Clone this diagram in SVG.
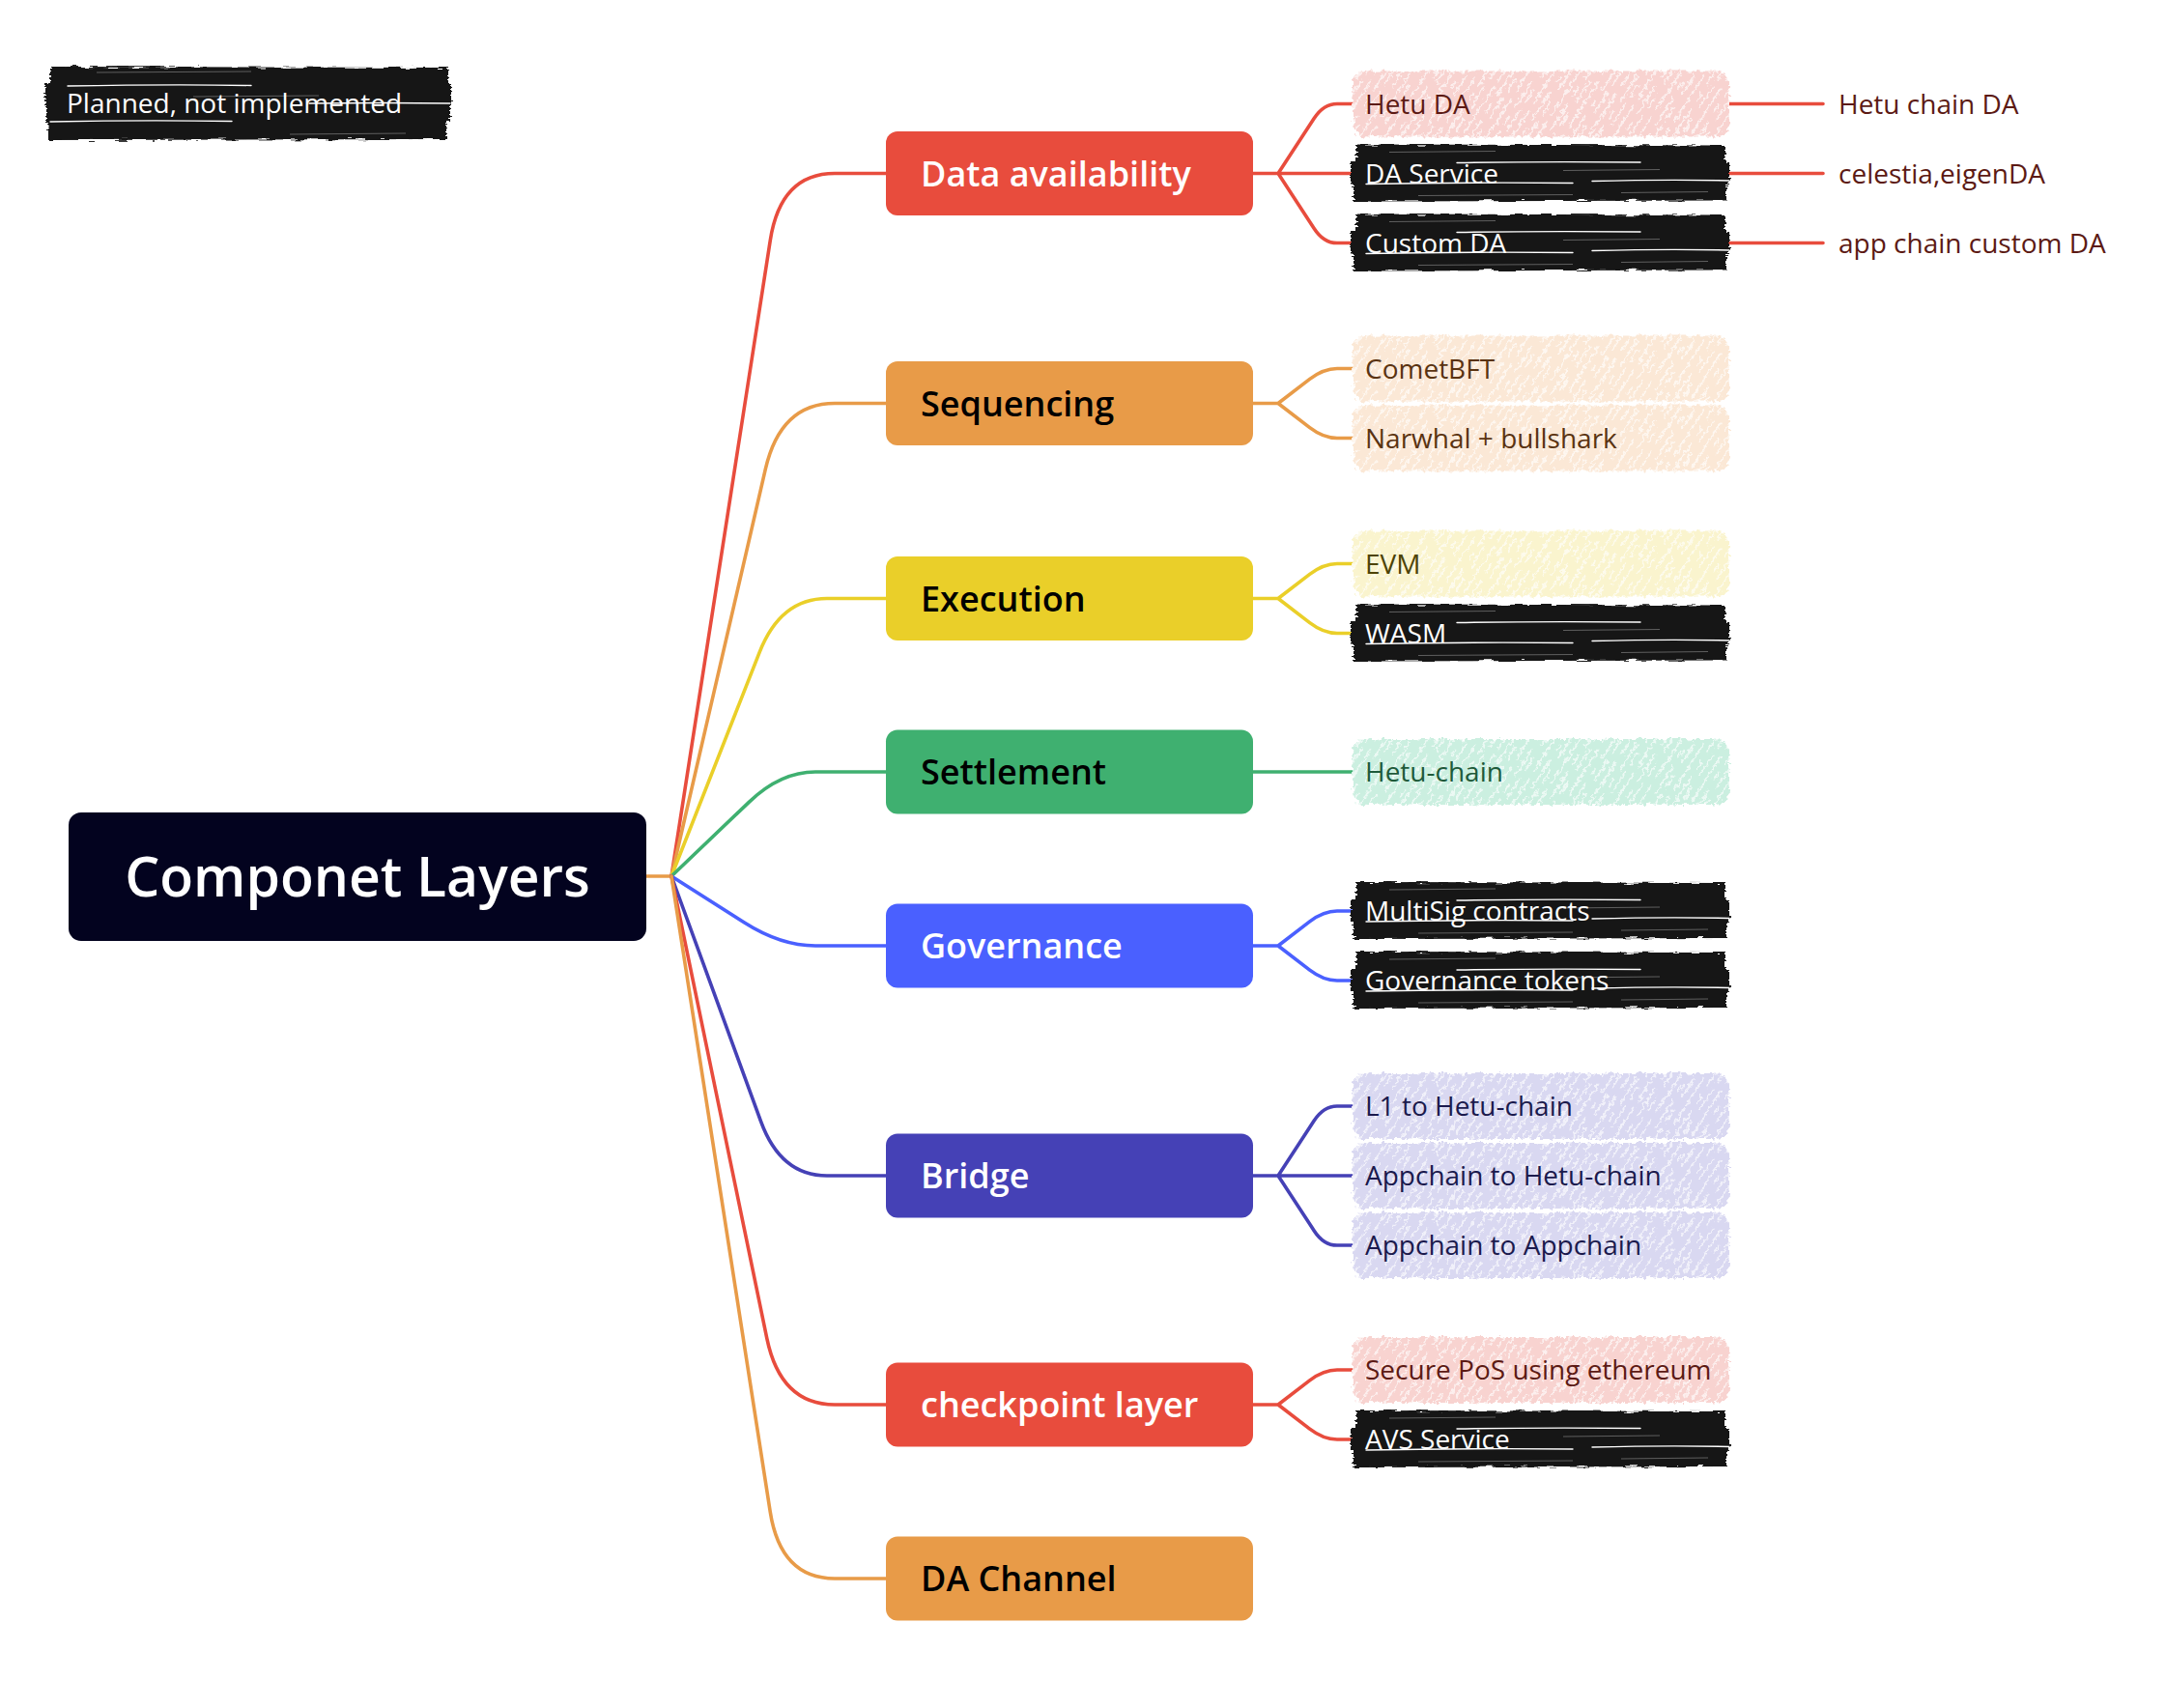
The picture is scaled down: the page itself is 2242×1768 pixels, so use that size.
<svg xmlns="http://www.w3.org/2000/svg" xmlns:xlink="http://www.w3.org/1999/xlink" width="2242" height="1768" viewBox="0 0 2242 1768">
<style>
text{font-family:"Open Sans","Noto Sans","DejaVu Sans",sans-serif}
.root{font-size:57px;font-weight:600;fill:#fff}
.cat{font-size:36px;font-weight:600}
.sub{font-size:28px}
.w{fill:#fff}
.k{fill:#000}
.lk{fill:none;stroke-width:3.6;stroke-linecap:round;stroke-linejoin:round}
.red{stroke:#E84C3D}.org{stroke:#E89B48}.yel{stroke:#EACF29}.grn{stroke:#3FB070}.blu{stroke:#4A60FF}.ind{stroke:#4541B6}
.ink{stroke:#141414;stroke-width:22;fill:none}
.gap{stroke:#fff;stroke-width:1.4;fill:none;stroke-linecap:round}
.gr{stroke:#9a9a9a;stroke-width:1;fill:none;opacity:.55}
</style>
<defs>
<filter id="rough" x="-5%" y="-30%" width="110%" height="160%">
<feTurbulence type="fractalNoise" baseFrequency="0.22" numOctaves="2" seed="4" result="n"/>
<feDisplacementMap in="SourceGraphic" in2="n" scale="8" xChannelSelector="R" yChannelSelector="G"/>
</filter>
<filter id="roughB" x="-5%" y="-30%" width="110%" height="160%">
<feTurbulence type="fractalNoise" baseFrequency="0.06 0.5" numOctaves="2" seed="7" result="n"/>
<feDisplacementMap in="SourceGraphic" in2="n" scale="7" xChannelSelector="R" yChannelSelector="G"/>
</filter>
<pattern id="hatch" width="22" height="64" patternUnits="userSpaceOnUse" patternTransform="rotate(33)">
<path d="M3,0V26M3,34V64M11,6V40M11,50V60M17,14V30M17,38V64" stroke="#fff" stroke-width="1.6" opacity="0.8"/>
</pattern>
<g id="pastel">
<rect x="0" y="-34" width="390" height="68" rx="14"/>
<rect x="0" y="-34" width="390" height="68" rx="14" fill="url(#hatch)"/>
</g>
<g id="blkInk">
<path class="ink" d="M6,-19L388,-18"/>
<path class="ink" d="M0,-1L392,0"/>
<path class="ink" d="M3,18L389,17"/>
</g>
<g id="blkGap">
<path class="gap" d="M16,11Q120,9 230,10M250,8Q330,6 392,7.5"/>
<path class="gap" d="M110,-11Q200,-12.5 300,-11.5"/>
<path class="gr" d="M40,-22L150,-23M220,-3L320,-4M70,23L230,22M280,20L370,19"/>
</g>
</defs>

<g id="legend">
<g filter="url(#roughB)">
<path class="ink" d="M52,80L464,81"/>
<path class="ink" d="M47,98L467,98"/>
<path class="ink" d="M48,116L466,115"/>
<path class="ink" d="M50,134L462,133"/>
</g>
<path class="gap" d="M70,89Q180,87 260,88.5M320,107Q400,106 466,107M52,126Q150,124 240,125.5"/>
<path class="gr" d="M100,75L260,74M300,139L420,138M200,100L330,99"/>
<text class="sub w" x="69" y="117">Planned, not implemented</text>
</g>

<g id="connectors">
<path class="lk org" d="M669,907L695,907"/>
<path class="lk red" d="M695,907L797.3,248.7Q808,179.5 864,179.5L917,179.5"/>
<path class="lk org" d="M695,907L792.3,485.7Q808,417.5 864,417.5L917,417.5"/>
<path class="lk yel" d="M695,907L786.1,675.3Q808,619.5 856,619.5L917,619.5"/>
<path class="lk grn" d="M695,907L775.5,830.1Q808,799 844,799L917,799"/>
<path class="lk blu" d="M695,907L770.1,954.8Q808,979 844,979L917,979"/>
<path class="lk ind" d="M695,907L787.5,1160.6Q808,1217 856,1217L917,1217"/>
<path class="lk red" d="M695,907L793.8,1385.4Q808,1454 864,1454L917,1454"/>
<path class="lk org" d="M695,907L797.2,1564.8Q808,1634 864,1634L917,1634"/>

<path class="lk red" d="M1297,179.5H1323M1323,179.5L1360.2,122.6Q1370,107.5 1384,107.5H1404M1323,179.5H1404M1323,179.5L1360.2,236.4Q1370,251.5 1384,251.5H1404"/>
<path class="lk red" d="M1790,107.5H1887M1790,179.5H1887M1790,251.5H1887"/>
<path class="lk org" d="M1297,417.5H1323M1323,417.5L1355.7,392.4Q1370,381.5 1384,381.5H1404M1323,417.5L1355.7,442.6Q1370,453.5 1384,453.5H1404"/>
<path class="lk yel" d="M1297,619.5H1323M1323,619.5L1355.7,594.4Q1370,583.5 1384,583.5H1404M1323,619.5L1355.7,644.6Q1370,655.5 1384,655.5H1404"/>
<path class="lk grn" d="M1297,799H1404"/>
<path class="lk blu" d="M1297,979H1323M1323,979L1355.7,953.9Q1370,943 1384,943H1404M1323,979L1355.7,1004.1Q1370,1015 1384,1015H1404"/>
<path class="lk ind" d="M1297,1217H1323M1323,1217L1360.2,1160.1Q1370,1145 1384,1145H1404M1323,1217H1404M1323,1217L1360.2,1273.9Q1370,1289 1384,1289H1404"/>
<path class="lk red" d="M1297,1454H1323M1323,1454L1355.7,1428.9Q1370,1418 1384,1418H1404M1323,1454L1355.7,1479.1Q1370,1490 1384,1490H1404"/>
</g>

<g id="root">
<rect x="71" y="841" width="598" height="133" rx="13" fill="#03031F"/>
<text class="root" x="370" y="928" text-anchor="middle">Componet Layers</text>
</g>

<g id="cat-da"><rect x="917" y="136" width="380" height="87" rx="12" fill="#E84C3D"/><text class="cat w" x="953" y="192.5">Data availability</text></g>
<g id="cat-seq"><rect x="917" y="374" width="380" height="87" rx="12" fill="#E89B48"/><text class="cat k" x="953" y="430.5">Sequencing</text></g>
<g id="cat-exe"><rect x="917" y="576" width="380" height="87" rx="12" fill="#EACF29"/><text class="cat k" x="953" y="632.5">Execution</text></g>
<g id="cat-set"><rect x="917" y="755.5" width="380" height="87" rx="12" fill="#3FB070"/><text class="cat k" x="953" y="812">Settlement</text></g>
<g id="cat-gov"><rect x="917" y="935.5" width="380" height="87" rx="12" fill="#4A60FF"/><text class="cat w" x="953" y="992">Governance</text></g>
<g id="cat-bri"><rect x="917" y="1173.5" width="380" height="87" rx="12" fill="#4541B6"/><text class="cat w" x="953" y="1230">Bridge</text></g>
<g id="cat-chk"><rect x="917" y="1410.5" width="380" height="87" rx="12" fill="#E84C3D"/><text class="cat w" x="953" y="1467">checkpoint layer</text></g>
<g id="cat-dac"><rect x="917" y="1590.5" width="380" height="87" rx="12" fill="#E89B48"/><text class="cat k" x="953" y="1647">DA Channel</text></g>

<g id="sub-hetuda"><use href="#pastel" x="1400" y="107.5" fill="#F8D3D0" filter="url(#rough)"/><text class="sub" x="1413" y="117.5" fill="#5C1A14">Hetu DA</text></g>
<g id="sub-daservice"><use href="#blkInk" x="1398" y="179.5" filter="url(#roughB)"/><use href="#blkGap" x="1398" y="179.5"/><text class="sub w" x="1413" y="189.5">DA Service</text></g>
<g id="sub-customda"><use href="#blkInk" x="1398" y="251.5" filter="url(#roughB)"/><use href="#blkGap" x="1398" y="251.5"/><text class="sub w" x="1413" y="261.5">Custom DA</text></g>
<g id="leaf-hetuchainda"><text class="sub" x="1903" y="117.5" fill="#5C1A14">Hetu chain DA</text></g>
<g id="leaf-celestia"><text class="sub" x="1903" y="189.5" fill="#5C1A14">celestia,eigenDA</text></g>
<g id="leaf-appchainda"><text class="sub" x="1903" y="261.5" fill="#5C1A14">app chain custom DA</text></g>

<g id="sub-comet"><use href="#pastel" x="1400" y="381.5" fill="#FBE8D6" filter="url(#rough)"/><text class="sub" x="1413" y="391.5" fill="#5A3311">CometBFT</text></g>
<g id="sub-narwhal"><use href="#pastel" x="1400" y="453.5" fill="#FBE8D6" filter="url(#rough)"/><text class="sub" x="1413" y="463.5" fill="#5A3311">Narwhal + bullshark</text></g>

<g id="sub-evm"><use href="#pastel" x="1400" y="583.5" fill="#FAF4CE" filter="url(#rough)"/><text class="sub" x="1413" y="593.5" fill="#4D4306">EVM</text></g>
<g id="sub-wasm"><use href="#blkInk" x="1398" y="655.5" filter="url(#roughB)"/><use href="#blkGap" x="1398" y="655.5"/><text class="sub w" x="1413" y="665.5">WASM</text></g>

<g id="sub-hetuchain"><use href="#pastel" x="1400" y="799" fill="#CBEFE0" filter="url(#rough)"/><text class="sub" x="1413" y="809" fill="#1E5A3A">Hetu-chain</text></g>

<g id="sub-multisig"><use href="#blkInk" x="1398" y="943" filter="url(#roughB)"/><use href="#blkGap" x="1398" y="943"/><text class="sub w" x="1413" y="953">MultiSig contracts</text></g>
<g id="sub-govtokens"><use href="#blkInk" x="1398" y="1015" filter="url(#roughB)"/><use href="#blkGap" x="1398" y="1015"/><text class="sub w" x="1413" y="1025">Governance tokens</text></g>

<g id="sub-l1"><use href="#pastel" x="1400" y="1145" fill="#D9D8F1" filter="url(#rough)"/><text class="sub" x="1413" y="1155" fill="#1B1A4D">L1 to Hetu-chain</text></g>
<g id="sub-app2hetu"><use href="#pastel" x="1400" y="1217" fill="#D9D8F1" filter="url(#rough)"/><text class="sub" x="1413" y="1227" fill="#1B1A4D">Appchain to Hetu-chain</text></g>
<g id="sub-app2app"><use href="#pastel" x="1400" y="1289" fill="#D9D8F1" filter="url(#rough)"/><text class="sub" x="1413" y="1299" fill="#1B1A4D">Appchain to Appchain</text></g>

<g id="sub-securepos"><use href="#pastel" x="1400" y="1418" fill="#F8D3D0" filter="url(#rough)"/><text class="sub" x="1413" y="1428" fill="#5C1A14">Secure PoS using ethereum</text></g>
<g id="sub-avs"><use href="#blkInk" x="1398" y="1490" filter="url(#roughB)"/><use href="#blkGap" x="1398" y="1490"/><text class="sub w" x="1413" y="1500">AVS Service</text></g>
</svg>
